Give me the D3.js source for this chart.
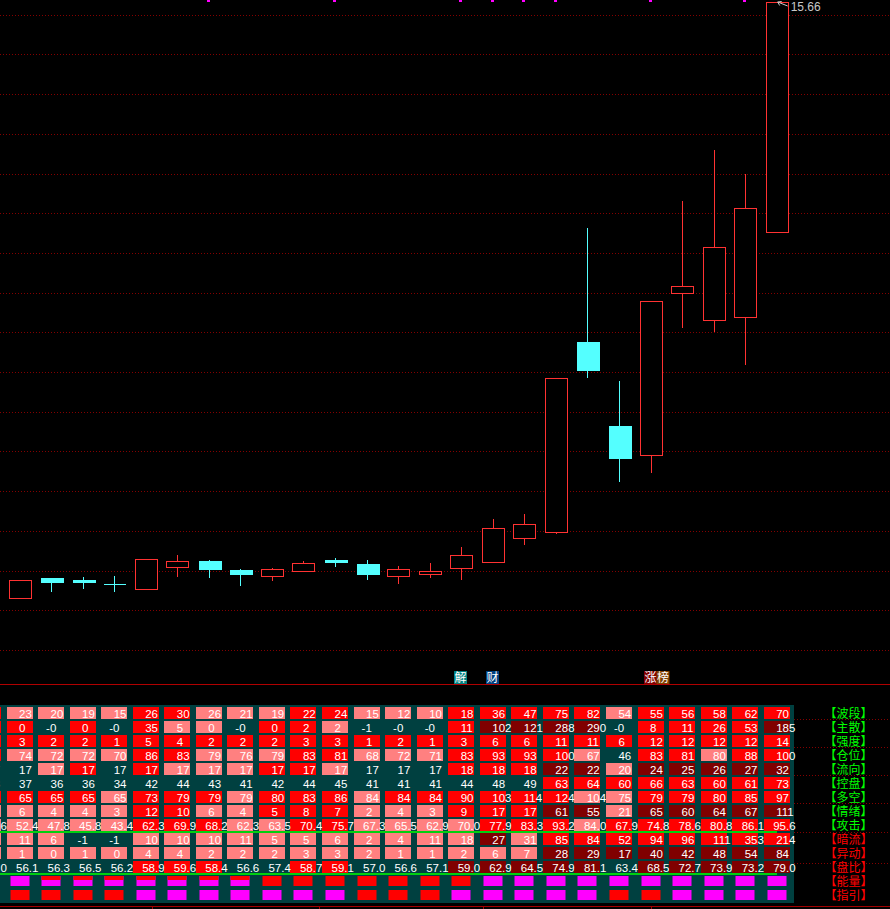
<!DOCTYPE html>
<html><head><meta charset="utf-8">
<script src="https://cdn.jsdelivr.net/npm/d3@7"></script>
<style>html,body{margin:0;padding:0;background:#000;overflow:hidden}</style>
</head><body>
<svg id="c" width="890" height="909"></svg>
<script>
// ---------- DATA ----------
// column 0 is the previous (mostly off-screen) session, candles are columns 1..25
const days = ["d00","d01","d02","d03","d04","d05","d06","d07","d08","d09","d10","d11","d12",
              "d13","d14","d15","d16","d17","d18","d19","d20","d21","d22","d23","d24","d25"];
const candleDays = days.slice(1);
const openP  = [8.16,8.41,8.38,8.33,8.27,8.55,8.62,8.51,8.43,8.50,8.63,8.58,8.43,8.46,8.53,8.61,8.91,8.98,11.38,10.32,9.96,12.00,11.66,11.69,12.76];
const closeP = [8.38,8.35,8.36,8.33,8.65,8.62,8.52,8.46,8.52,8.60,8.61,8.46,8.52,8.50,8.69,9.03,9.09,10.92,11.02,9.92,11.89,12.08,12.57,13.06,15.66];
const highP  = [8.38,8.41,8.42,8.43,8.65,8.70,8.63,8.52,8.53,8.62,8.66,8.63,8.56,8.59,8.80,9.15,9.21,10.92,12.81,10.89,11.89,13.15,13.80,13.49,15.66];
const lowP   = [8.16,8.23,8.27,8.23,8.27,8.42,8.41,8.30,8.37,8.48,8.54,8.38,8.33,8.41,8.38,8.60,8.82,8.96,10.92,9.62,9.73,11.55,11.50,11.09,12.76];
const gridPrices = [7.5,8.0,8.5,9.0,9.5,10.0,10.5,11.0,11.5,12.0,12.5,13.0,13.5,14.0,14.5,15.0,15.5];
const highLabel = "15.66";
const topSignalDays = ["d07","d11","d15","d16","d17","d18","d21","d24"];
const eventDays = ["d15","d16","d21","d21"];
const eventTexts = ["解","财","涨","榜"];
const eventKinds = ["jie","cai","zhang","bang"];
const tickDays = [5.2, 10.5, 15.7, 21.0];

// table rows (value, state: 1 rising, -1 falling, 2 strong, 0 neutral)
const rowNames = ["波段","主散","强度","仓位","流向","控盘","多空","情绪","攻击","暗流","异动","盘比","能量","指引"];
const boduan  = [25,23,20,19,15,26,30,26,21,19,22,24,15,12,10,18,36,47,75,82,54,55,56,58,62,70];
const boduanS = [1,-1,-1,-1,-1,1,1,-1,-1,-1,1,1,-1,-1,-1,1,1,1,1,1,-1,1,1,1,1,1];
const zhusan  = [0,0,-0,0,-0,35,5,0,-0,0,2,2,-1,-0,-0,11,102,121,288,290,-0,8,11,26,53,185];
const zhusanS = [1,1,0,1,0,1,-1,-1,0,1,1,-1,0,0,0,1,2,2,2,2,0,1,1,1,1,2];
const qiangdu  = [3,3,2,2,1,5,4,2,2,2,3,3,1,2,1,3,6,6,11,11,6,12,12,12,12,14];
const qiangduS = [1,1,1,1,1,1,1,1,1,1,1,1,1,1,1,1,1,1,1,1,1,1,1,1,1,1];
const cangwei  = [76,74,72,72,70,86,83,79,76,79,83,81,68,72,71,83,93,93,100,67,46,83,81,80,88,100];
const cangweiS = [1,-1,-1,-1,-1,1,1,-1,-1,-1,1,1,-1,-1,-1,1,1,1,1,-1,0,1,1,-1,1,1];
const liuxiang  = [17,17,17,17,17,17,17,17,17,17,17,17,17,17,17,18,18,18,22,22,20,24,25,26,27,32];
const liuxiangS = [0,0,-1,1,0,1,-1,-1,-1,1,1,-1,0,0,0,1,1,1,2,2,-1,2,2,2,2,2];
const kongpan  = [38,37,36,36,34,42,44,43,41,42,44,45,41,41,41,44,48,49,63,64,60,66,63,60,61,73];
const kongpanS = [0,0,0,0,0,0,0,0,0,0,0,0,0,0,0,0,0,0,1,1,1,1,1,1,1,1];
const duokong  = [66,65,65,65,65,73,79,79,79,80,83,86,84,84,84,90,103,114,124,104,75,79,79,80,85,97];
const duokongS = [1,1,1,1,-1,1,1,1,-1,1,1,1,-1,1,1,1,1,1,1,-1,-1,1,1,1,1,1];
const qingxu  = [7,6,4,4,3,12,10,6,4,5,8,7,2,4,3,9,17,17,61,55,21,65,60,64,67,111];
const qingxuS = [-1,-1,-1,-1,-1,1,1,-1,-1,1,1,1,-1,-1,-1,1,1,1,2,2,-1,2,2,2,2,2];
const gongji  = [55.6,52.4,47.8,45.8,43.4,62.3,69.9,68.2,62.3,63.5,70.4,75.7,67.3,65.5,62.9,70.0,77.9,83.3,93.2,84.0,67.9,74.8,78.6,80.8,86.1,95.6];
const gongjiS = [-1,-1,-1,-1,-1,1,1,1,-1,-1,1,1,-1,-1,-1,-1,1,1,1,-1,1,1,1,1,1,1];
const anliu  = [12,11,6,-1,-1,10,10,10,11,5,5,6,2,4,11,18,27,31,85,84,52,94,96,111,353,214];
const anliuS = [-1,-1,-1,0,0,-1,-1,-1,-1,-1,-1,-1,-1,-1,-1,-1,2,-1,1,1,1,1,1,1,1,1];
const yidong  = [1,1,0,1,0,4,4,2,2,2,3,3,2,1,1,2,6,7,28,29,17,40,42,48,54,84];
const yidongS = [-1,-1,-1,-1,-1,-1,-1,-1,-1,-1,-1,-1,-1,-1,-1,-1,-1,-1,2,2,2,2,2,2,2,2];
const panbi  = [56.0,56.1,56.3,56.5,56.2,58.9,59.6,58.4,56.6,57.4,58.7,59.1,57.0,56.6,57.1,59.0,62.9,64.5,74.9,81.1,63.4,68.5,72.7,73.9,73.2,79.0];
const panbiS = [0,0,0,0,0,1,1,1,0,0,1,1,0,0,0,2,2,2,2,2,0,2,2,2,2,2];
// signal rows: 1 = buy (magenta), -1 = sell (red), 0 = mixed
const nengliang = [1,1,0,0,0,0,0,0,0,-1,-1,-1,-1,-1,-1,-1,1,1,1,1,1,1,1,1,1,1];
const zhiyin    = [-1,-1,-1,-1,-1,1,1,1,1,1,1,1,-1,-1,-1,1,1,1,1,1,-1,-1,1,1,1,1];

// ---------- DRAW ----------
const W = 890, H = 909;
const svg = d3.select("#c");
svg.append("rect").attr("width", W).attr("height", H).attr("fill", "#000");

const x = d3.scalePoint().domain(days).range([-12.05, 776.7]);
const xi = d3.scaleLinear().domain([0, 25]).range([-12.05, 776.7]);
const y = d3.scaleLinear().domain([7, 15.66]).range([2 + 8.66 * 79.4, 2]);

const RED = "#ff3232", CYAN = "#54ffff";

// grid
svg.append("g").attr("shape-rendering", "crispEdges").selectAll("line").data(gridPrices).join("line")
  .attr("x1", 0).attr("x2", W)
  .attr("y1", d => Math.round(y(d)) + 0.5).attr("y2", d => Math.round(y(d)) + 0.5)
  .attr("stroke", "#840000").attr("stroke-width", 1).attr("stroke-dasharray", "1 2");

// candles
const candles = candleDays.map((d, i) => ({day: d, o: openP[i], c: closeP[i], h: highP[i], l: lowP[i]}));
const cg = svg.append("g").attr("shape-rendering", "crispEdges");
const bw = 22;
candles.forEach(k => {
  const cx = Math.round(x(k.day)) + 0.5;
  const up = k.c > k.o;
  const col = up ? RED : CYAN;
  const yt = Math.round(y(Math.max(k.o, k.c))), yb = Math.round(y(Math.min(k.o, k.c)));
  const yh = Math.round(y(k.h)), yl = Math.round(y(k.l));
  if (up) {
    if (yh < yt) cg.append("line").attr("x1", cx).attr("x2", cx).attr("y1", yh).attr("y2", yt).attr("stroke", col);
    if (yl > yb) cg.append("line").attr("x1", cx).attr("x2", cx).attr("y1", yb).attr("y2", yl).attr("stroke", col);
    cg.append("rect").attr("x", cx - bw / 2).attr("y", yt + 0.5).attr("width", bw).attr("height", Math.max(1, yb - yt))
      .attr("fill", "#000").attr("stroke", col).attr("stroke-width", 1);
  } else {
    cg.append("line").attr("x1", cx).attr("x2", cx).attr("y1", yh).attr("y2", yl).attr("stroke", col);
    if (yb - yt < 1) {
      cg.append("line").attr("x1", cx - bw / 2).attr("x2", cx + bw / 2).attr("y1", yt + 0.5).attr("y2", yt + 0.5).attr("stroke", col);
    } else {
      cg.append("rect").attr("x", cx - bw / 2).attr("y", yt).attr("width", bw + 1).attr("height", yb - yt + 1).attr("fill", col);
    }
  }
});

// top signal marks
svg.append("g").selectAll("rect").data(topSignalDays).join("rect")
  .attr("x", d => Math.round(x(d)) - 2).attr("y", 0).attr("width", 3).attr("height", 2).attr("fill", "#ff00ff");

// high label
const last = candles[candles.length - 1];
const hy = y(last.h);
const hx = x(last.day);
svg.append("path").attr("d", `M${hx + 1},${hy} L${hx + 11},${hy + 4} M${hx + 1},${hy} L${hx + 5},${hy - 0.5} M${hx + 1},${hy} L${hx + 3},${hy + 3.5}`)
  .attr("stroke", "#c8c8c8").attr("fill", "none").attr("stroke-width", 1);
svg.append("text").attr("x", hx + 14).attr("y", hy + 9).attr("fill", "#c8c8c8")
  .attr("font-family", "Liberation Sans, Arial, sans-serif").attr("font-size", 12).text(highLabel);

// event markers
const evBg = {jie: "#008080", cai: "#004080", zhang: "#800000", bang: "#804000"};
eventDays.forEach((d, i) => {
  const off = eventKinds[i] === "bang" ? 12.5 : 0;
  const bx = Math.round(x(d)) - 7 + off;
  svg.append("rect").attr("x", bx).attr("y", 671).attr("width", 13).attr("height", 13).attr("fill", evBg[eventKinds[i]]);
  svg.append("text").attr("x", bx + 6.5).attr("y", 682).attr("text-anchor", "middle")
    .attr("fill", "#fff").attr("font-family", "Noto Sans CJK SC, sans-serif").attr("font-size", 12).text(eventTexts[i]);
});

// separator line
svg.append("line").attr("x1", 0).attr("x2", W).attr("y1", 684.5).attr("y2", 684.5).attr("stroke", "#b00000");

// ---------- TABLE ----------
const rowY = d3.scalePoint().domain(rowNames).range([713, 895]);
svg.append("rect").attr("x", 0).attr("y", 705).attr("width", 794).attr("height", 198).attr("fill", "#004040");

// right-side dotted guides
const guideY = [719, 747, 775, 803, 832, 863];
svg.append("g").attr("shape-rendering", "crispEdges").selectAll("line").data(guideY).join("line")
  .attr("x1", 794).attr("x2", W).attr("y1", d => d + 0.5).attr("y2", d => d + 0.5)
  .attr("stroke", "#840000").attr("stroke-dasharray", "1 2");

const stateColor = {"1": "#ff0000", "-1": "#ff8080", "2": "#800000"};
const numRows = [
  ["波段", boduan, boduanS, false], ["主散", zhusan, zhusanS, false], ["强度", qiangdu, qiangduS, false],
  ["仓位", cangwei, cangweiS, false], ["流向", liuxiang, liuxiangS, false], ["控盘", kongpan, kongpanS, false],
  ["多空", duokong, duokongS, false], ["情绪", qingxu, qingxuS, false], ["攻击", gongji, gongjiS, true],
  ["暗流", anliu, anliuS, false], ["异动", yidong, yidongS, false], ["盘比", panbi, panbiS, true]
];
const tg = svg.append("g");
numRows.forEach(([name, vals, st, dec]) => {
  const cy = rowY(name);
  vals.forEach((v, i) => {
    const cx = x(days[i]);
    const s = st[i];
    if (s !== 0) {
      tg.append("rect").attr("x", Math.round(cx - 13)).attr("y", Math.round(cy - 6)).attr("width", 26).attr("height", 12)
        .attr("fill", stateColor[String(s)]);
    }
  });
});
numRows.forEach(([name, vals, st, dec]) => {
  const cy = rowY(name);
  vals.forEach((v, i) => {
    const cx = x(days[i]);
    let txt, tx;
    if (dec) { txt = v.toFixed(1); tx = cx - 3.5; }
    else {
      const neg = v < 0 || Object.is(v, -0);
      txt = neg ? "-" + Math.abs(v) : String(v);
      tx = neg ? cx - 5 : cx - 0.5;
    }
    tg.append("text").attr("x", tx).attr("y", cy + 4.5).attr("fill", "#fff")
      .attr("font-family", "Liberation Sans, Arial, sans-serif").attr("font-size", 11.5).text(txt);
  });
});

// signal rows
function sigRow(name, vals) {
  const cy = rowY(name);
  vals.forEach((v, i) => {
    const cx = Math.round(x(days[i]));
    const bx = cx - 9.5, by = Math.round(cy - 5);
    if (v === 0) {
      tg.append("rect").attr("x", bx).attr("y", by).attr("width", 19).attr("height", 10).attr("fill", "#ff00ff");
      tg.append("rect").attr("x", bx).attr("y", by).attr("width", 19).attr("height", 4).attr("fill", "#ff0000");
    } else {
      tg.append("rect").attr("x", bx).attr("y", by).attr("width", 19).attr("height", 10).attr("fill", v > 0 ? "#ff00ff" : "#ff0000");
    }
  });
}
sigRow("能量", nengliang);
sigRow("指引", zhiyin);

// green separators
[rowNames[8], rowNames[11]].forEach(n => {
  svg.append("line").attr("x1", 0).attr("x2", 777).attr("y1", rowY(n) + 7).attr("y2", rowY(n) + 7)
    .attr("stroke", "#00ff00").attr("stroke-width", 1.6);
});

// row labels
svg.append("g").selectAll("text").data(rowNames).join("text")
  .attr("x", 824.5).attr("y", d => rowY(d) + 4.5)
  .attr("fill", (d, i) => i < 9 ? "#00ff00" : "#ff0000")
  .attr("font-family", "Noto Sans CJK SC, sans-serif").attr("font-size", 12)
  .text(d => "【" + d + "】");

// bottom axis line with ticks
svg.append("line").attr("x1", 0).attr("x2", W).attr("y1", 906.5).attr("y2", 906.5).attr("stroke", "#a00000");
svg.append("g").selectAll("line").data(tickDays).join("line")
  .attr("x1", d => Math.round(xi(d)) + 0.5).attr("x2", d => Math.round(xi(d)) + 0.5)
  .attr("y1", 906).attr("y2", 909).attr("stroke", "#a00000");
</script>
</body></html>
